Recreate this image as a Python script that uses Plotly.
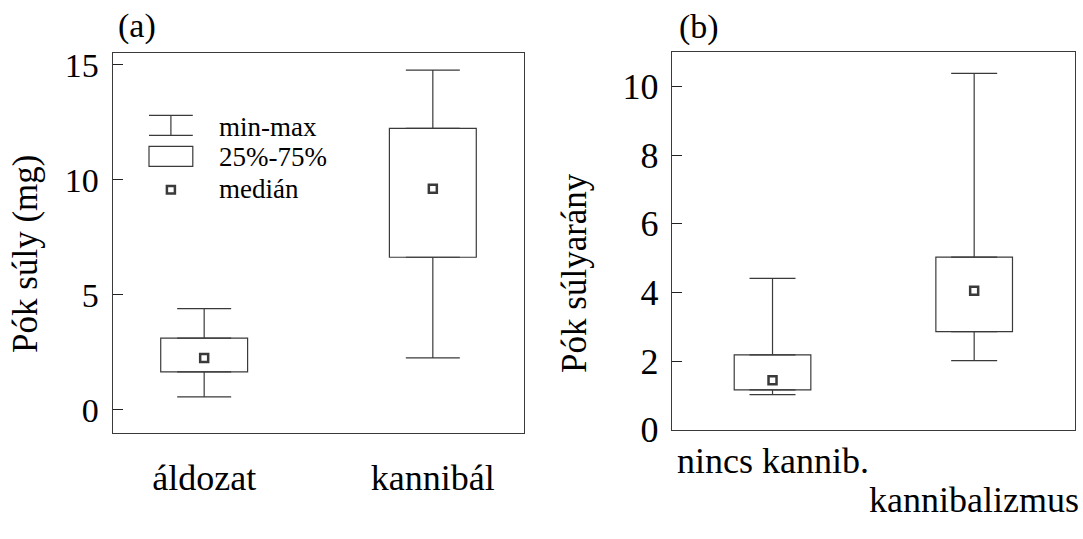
import numpy as np
import plotly.graph_objects as go

W, H = 1083, 539

# ---- data ----
cats_a = ["áldozat", "kannibál"]
min_a = np.array([0.56, 2.26])
q1_a = np.array([1.65, 6.63])
med_a = np.array([2.25, 9.61])
q3_a = np.array([3.11, 12.23])
max_a = np.array([4.40, 14.76])

cats_b = ["nincs kannib.", "kannibalizmus"]
min_b = np.array([1.02, 2.01])
q1_b = np.array([1.16, 2.86])
med_b = np.array([1.44, 4.05])
q3_b = np.array([2.18, 5.03])
max_b = np.array([4.41, 10.39])

legend_labels = ["min-max", "25%-75%", "medián"]
yticks_a = [0, 5, 10, 15]
yticks_b = [0, 2, 4, 6, 8, 10]

FONT = "Liberation Serif"
LC = "#3a3a3a"


def px(x):
    return x / W


def py(y):
    return 1 - y / H


fig = go.Figure()


def add_panel(xa, ya, cats, mn, q1, med, q3, mx, capw):
    fig.add_trace(go.Bar(x=cats, y=q3 - q1, base=q1, width=0.38,
                         marker=dict(color="white", line=dict(color=LC, width=1.2)),
                         xaxis=xa, yaxis=ya, showlegend=False, hoverinfo="skip"))
    fig.add_trace(go.Scatter(x=cats, y=q3, mode="markers",
                             marker=dict(size=1, opacity=0),
                             error_y=dict(type="data", symmetric=False, array=mx - q3,
                                          arrayminus=[0] * len(cats), width=capw,
                                          thickness=1.2, color=LC),
                             xaxis=xa, yaxis=ya, showlegend=False, hoverinfo="skip"))
    fig.add_trace(go.Scatter(x=cats, y=q1, mode="markers",
                             marker=dict(size=1, opacity=0),
                             error_y=dict(type="data", symmetric=False, array=[0] * len(cats),
                                          arrayminus=q1 - mn, width=capw,
                                          thickness=1.2, color=LC),
                             xaxis=xa, yaxis=ya, showlegend=False, hoverinfo="skip"))
    fig.add_trace(go.Scatter(x=cats, y=med, mode="markers",
                             marker=dict(symbol="square", size=8, color="white",
                                         line=dict(color=LC, width=2.5)),
                             xaxis=xa, yaxis=ya, showlegend=False))


add_panel("x", "y", cats_a, min_a, q1_a, med_a, q3_a, max_a, 27)
add_panel("x2", "y2", cats_b, min_b, q1_b, med_b, q3_b, max_b, 23)

axis_common = dict(showline=True, mirror=True, linecolor=LC, linewidth=1.2,
                   showgrid=False, zeroline=False)

fig.update_layout(
    width=W, height=H,
    margin=dict(l=0, r=0, t=0, b=0),
    paper_bgcolor="white", plot_bgcolor="white",
    barmode="overlay",
    font=dict(family=FONT, color="black"),
    xaxis=dict(domain=[px(112.7), px(524.3)], range=[-0.4, 1.4], type="category",
               ticks="", ticklabelstandoff=13,
               tickfont=dict(family=FONT, size=36, color="black"), **axis_common),
    yaxis=dict(domain=[py(449.3), py(49.6)], range=[-1.0, 15.5], tickvals=yticks_a,
               ticks="inside", ticklen=10, tickcolor="#222", tickwidth=1.2,
               ticklabelstandoff=6,
               tickfont=dict(family=FONT, size=34, color="black"), **axis_common),
    xaxis2=dict(domain=[px(671.7), px(1075)], range=[-0.5, 1.5], type="category",
                anchor="y2", ticks="", showticklabels=False, **axis_common),
    yaxis2=dict(domain=[py(446), py(48.8)], range=[0, 11], tickvals=yticks_b,
                anchor="x2", ticks="inside", ticklen=10, tickcolor="#222", tickwidth=1.2,
                ticklabelstandoff=5,
                tickfont=dict(family=FONT, size=36, color="black"), **axis_common),
)

# category labels of panel (b), staggered
for cat, ytop in zip(cats_b, [456, 497]):
    fig.add_annotation(x=cat, xref="x2", y=py(ytop), yref="paper", text=cat,
                       showarrow=False, xanchor="center", yanchor="top",
                       font=dict(family=FONT, size=36, color="black"))

# legend drawing inside panel (a)
shapes = [
    dict(type="line", x0=px(149), x1=px(192.8), y0=py(115.1), y1=py(115.1)),
    dict(type="line", x0=px(149), x1=px(192.8), y0=py(136.1), y1=py(136.1)),
    dict(type="line", x0=px(170.9), x1=px(170.9), y0=py(115.1), y1=py(136.1)),
    dict(type="rect", x0=px(149), x1=px(192.8), y0=py(147.8), y1=py(168.8)),
]
for s in shapes:
    s.update(xref="paper", yref="paper", line=dict(color=LC, width=1.2))
    fig.add_shape(**s)
fig.add_shape(type="rect", xref="paper", yref="paper",
              x0=px(166.9), x1=px(174.9), y0=py(189.5), y1=py(197.5),
              line=dict(color=LC, width=2.5), fillcolor="white")

for lab, yy in zip(legend_labels, [126.9, 159.4, 192.9]):
    fig.add_annotation(x=px(217), y=py(yy), xref="paper", yref="paper",
                       text=lab, showarrow=False, xanchor="left", yanchor="middle",
                       font=dict(family=FONT, size=27, color="black"))

# panel letters
fig.add_annotation(x=px(116), y=py(21), xref="paper", yref="paper", text="(a)",
                   showarrow=False, xanchor="left", yanchor="middle",
                   font=dict(family=FONT, size=34, color="black"))
fig.add_annotation(x=px(677), y=py(22), xref="paper", yref="paper", text="(b)",
                   showarrow=False, xanchor="left", yanchor="middle",
                   font=dict(family=FONT, size=34, color="black"))

# axis titles
fig.add_annotation(x=px(26), y=py(261), xref="paper", yref="paper",
                   text="Pók súly (mg)", textangle=-90, showarrow=False,
                   xanchor="center", yanchor="middle",
                   font=dict(family=FONT, size=35, color="black"))
fig.add_annotation(x=px(575), y=py(281), xref="paper", yref="paper",
                   text="Pók súlyarány", textangle=-90, showarrow=False,
                   xanchor="center", yanchor="middle",
                   font=dict(family=FONT, size=35, color="black"))

fig.write_html("out.html")
